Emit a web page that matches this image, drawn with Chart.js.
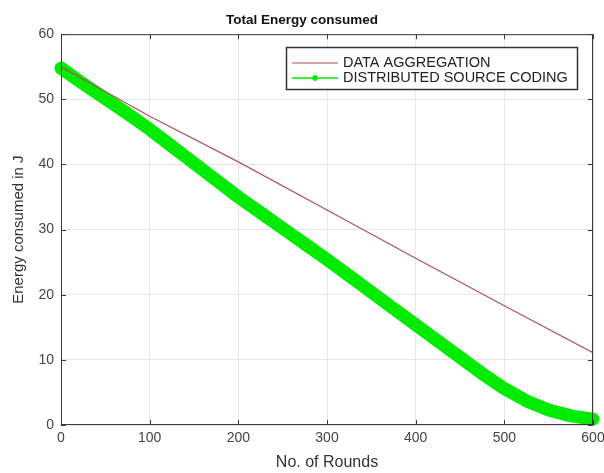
<!DOCTYPE html>
<html>
<head>
<meta charset="utf-8">
<script src="https://cdn.jsdelivr.net/npm/chart.js@4"></script>
<style>
html,body{margin:0;padding:0;background:#fff;}
#wrap{width:604px;height:473px;}
</style>
</head>
<body>
<div id="wrap"><canvas id="c" width="604" height="473"></canvas></div>
<script>
const rounds = [0,25,50,75,100,125,150,175,200,225,250,275,300,325,350,375,400,425,450,475,500,525,550,575,600];
const dscEnergy = [54.8,52.4,50.1,47.8,45.4,42.8,40.2,37.6,35.0,32.6,30.2,27.8,25.4,22.9,20.4,17.9,15.4,12.9,10.4,7.9,5.6,3.7,2.3,1.4,0.9];
const aggRounds = [0,100,200,300,400,500,600];
const aggEnergy = [55.0,47.4,40.4,33.0,25.6,18.3,11.1];
const xTicks = [0,100,200,300,400,500,600];
const yTicks = [0,10,20,30,40,50,60];
const seriesNames = ['DATA AGGREGATION','DISTRIBUTED SOURCE CODING'];

const RED = 'rgb(170,85,90)';
const GREEN = 'rgb(0,235,0)';
const FONT = 'Liberation Sans, Arial, sans-serif';

const matlabPlugin = {
  id: 'matlab',
  afterDatasetsDraw(chart) {
    const ctx = chart.ctx, a = chart.chartArea;
    const xs = chart.scales.x, ys = chart.scales.y;
    ctx.save();
    ctx.strokeStyle = '#3a3a3a';
    ctx.lineWidth = 1;
    ctx.strokeRect(a.left + 0.5, a.top + 0.5, a.right - a.left - 1, a.bottom - a.top - 1);
    ctx.beginPath();
    xTicks.forEach(v => {
      const px = Math.round(xs.getPixelForValue(v)) + 0.5;
      ctx.moveTo(px, a.bottom); ctx.lineTo(px, a.bottom - 5);
      ctx.moveTo(px, a.top); ctx.lineTo(px, a.top + 5);
    });
    yTicks.forEach(v => {
      const py = Math.round(ys.getPixelForValue(v)) + 0.5;
      ctx.moveTo(a.left, py); ctx.lineTo(a.left + 5, py);
      ctx.moveTo(a.right, py); ctx.lineTo(a.right - 5, py);
    });
    ctx.stroke();
    // legend
    const lx = 286, ly = 47, lw = 291, lh = 42;
    ctx.fillStyle = '#fff';
    ctx.fillRect(lx, ly, lw, lh);
    ctx.strokeStyle = '#333';
    ctx.lineWidth = 1.5;
    ctx.strokeRect(lx + 0.5, ly + 0.5, lw, lh);
    ctx.font = '14.5px ' + FONT;
    ctx.textBaseline = 'middle';
    ctx.fillStyle = '#222';
    ctx.strokeStyle = RED; ctx.lineWidth = 1.2;
    ctx.beginPath(); ctx.moveTo(292, 63); ctx.lineTo(338, 63); ctx.stroke();
    ctx.fillText(seriesNames[0], 343, 63);
    ctx.strokeStyle = GREEN; ctx.lineWidth = 1.5;
    ctx.beginPath(); ctx.moveTo(292, 78); ctx.lineTo(338, 78); ctx.stroke();
    ctx.beginPath();
    const cx = 315, cy = 78, r = 3;
    ctx.moveTo(cx - r, cy); ctx.lineTo(cx + r, cy);
    ctx.moveTo(cx, cy - r); ctx.lineTo(cx, cy + r);
    ctx.moveTo(cx - r*0.7, cy - r*0.7); ctx.lineTo(cx + r*0.7, cy + r*0.7);
    ctx.moveTo(cx - r*0.7, cy + r*0.7); ctx.lineTo(cx + r*0.7, cy - r*0.7);
    ctx.stroke();
    ctx.fillStyle = '#222';
    ctx.fillText(seriesNames[1], 343, 78);
    ctx.restore();
  }
};

new Chart(document.getElementById('c'), {
  type: 'scatter',
  data: {
    datasets: [
      {
        label: seriesNames[1],
        data: rounds.map((r, i) => ({x: r, y: dscEnergy[i]})),
        showLine: true,
        borderColor: GREEN,
        backgroundColor: GREEN,
        borderWidth: 13,
        pointRadius: 0,
        borderCapStyle: 'round',
        borderJoinStyle: 'round',
        tension: 0,
        clip: 8,
        order: 2
      },
      {
        label: seriesNames[0],
        data: aggRounds.map((r, i) => ({x: r, y: aggEnergy[i]})),
        showLine: true,
        borderColor: RED,
        backgroundColor: RED,
        borderWidth: 1.2,
        pointRadius: 0,
        tension: 0,
        order: 1
      }
    ]
  },
  options: {
    responsive: false,
    animation: false,
    devicePixelRatio: 1,
    layout: { padding: 0 },
    plugins: {
      legend: { display: false },
      tooltip: { enabled: false },
      title: {
        display: true,
        text: 'Total Energy consumed',
        color: '#111',
        font: { family: FONT, size: 13.5, weight: 'bold' },
        padding: { top: 12, bottom: 6 }
      }
    },
    scales: {
      x: {
        type: 'linear',
        min: 0, max: 600,
        afterBuildTicks: s => { s.ticks = xTicks.map(v => ({value: v})); },
        afterFit: s => { s.height = 48; s.paddingRight = 11; s.paddingLeft = 0; },
        grid: { color: '#e6e6e6', drawTicks: false, lineWidth: 1 },
        border: { display: false },
        ticks: { color: '#444', font: { family: FONT, size: 14 }, padding: 5, maxRotation: 0 },
        title: { display: true, text: 'No. of Rounds', color: '#333', font: { family: FONT, size: 16 }, padding: { top: 0, bottom: 1 } }
      },
      y: {
        type: 'linear',
        min: 0, max: 60,
        afterBuildTicks: s => { s.ticks = yTicks.map(v => ({value: v})); },
        afterFit: s => { s.width = 61; s.paddingTop = 0; s.paddingBottom = 0; },
        grid: { color: '#e6e6e6', drawTicks: false, lineWidth: 1 },
        border: { display: false },
        ticks: { color: '#444', font: { family: FONT, size: 14 }, padding: 7 },
        title: { display: true, text: 'Energy consumed in J', color: '#333', font: { family: FONT, size: 15 }, padding: { top: 10, bottom: 0 } }
      }
    }
  },
  plugins: [matlabPlugin]
});
</script>
</body>
</html>
